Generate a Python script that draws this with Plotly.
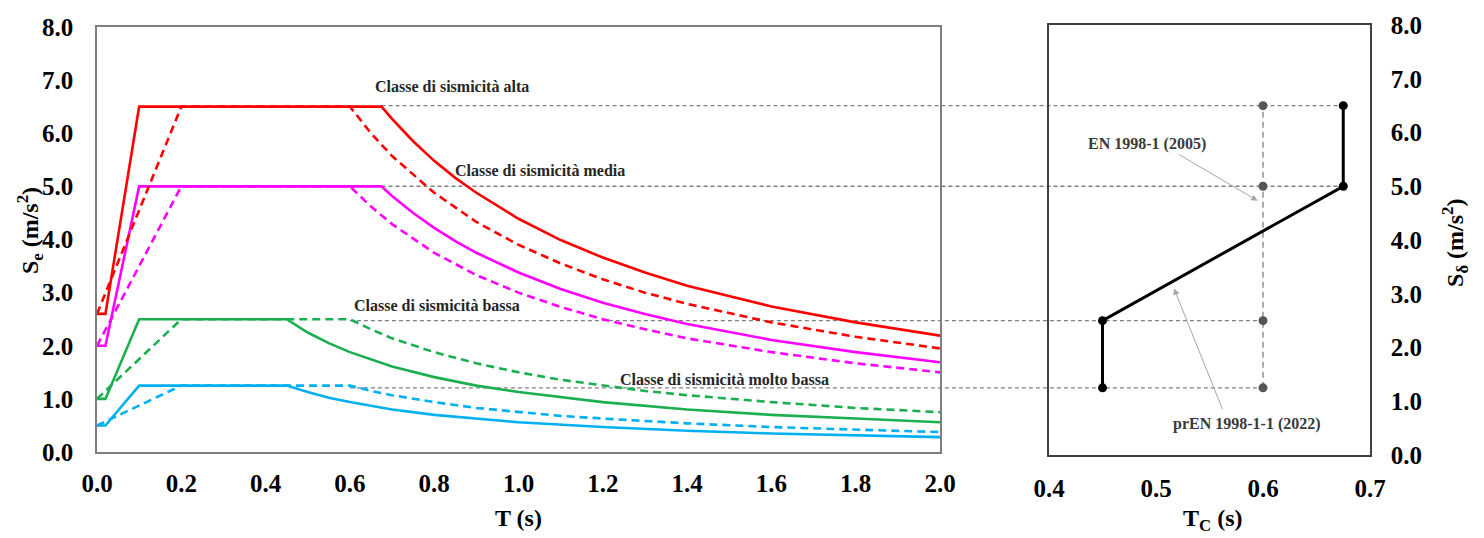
import plotly.graph_objects as go

# ---------------- data ----------------
# prEN 1998-1-1 (2022) spectra (solid)
T_new_hi = [0, 0.02, 0.1, 0.675, 0.7, 0.75, 0.8, 0.85, 0.9, 1.0, 1.1, 1.2, 1.3, 1.4, 1.6, 1.8, 2.0]
Se_alta_new = [2.6, 2.6, 6.5, 6.5, 6.27, 5.85, 5.48, 5.16, 4.88, 4.39, 3.99, 3.66, 3.38, 3.13, 2.74, 2.44, 2.19]
Se_media_new = [2.0, 2.0, 5.0, 5.0, 4.82, 4.50, 4.22, 3.97, 3.75, 3.38, 3.07, 2.81, 2.60, 2.41, 2.11, 1.88, 1.69]
T_new_lo = [0, 0.02, 0.1, 0.45, 0.5, 0.55, 0.6, 0.7, 0.8, 0.9, 1.0, 1.2, 1.4, 1.6, 1.8, 2.0]
Se_bassa_new = [1.0, 1.0, 2.5, 2.5, 2.25, 2.05, 1.88, 1.61, 1.41, 1.25, 1.13, 0.94, 0.80, 0.70, 0.63, 0.56]
Se_mbassa_new = [0.5, 0.5, 1.25, 1.25, 1.13, 1.02, 0.94, 0.80, 0.70, 0.63, 0.56, 0.47, 0.40, 0.35, 0.31, 0.28]

# EN 1998-1 (2005) spectra (dashed)
T_old = [0, 0.2, 0.6, 0.65, 0.7, 0.8, 0.9, 1.0, 1.1, 1.2, 1.3, 1.4, 1.6, 1.8, 2.0]
Se_alta_old = [2.6, 6.5, 6.5, 6.0, 5.57, 4.88, 4.33, 3.90, 3.55, 3.25, 3.00, 2.79, 2.44, 2.17, 1.95]
Se_media_old = [2.0, 5.0, 5.0, 4.62, 4.29, 3.75, 3.33, 3.00, 2.73, 2.50, 2.31, 2.14, 1.88, 1.67, 1.50]
Se_bassa_old = [1.0, 2.5, 2.5, 2.31, 2.14, 1.88, 1.67, 1.50, 1.36, 1.25, 1.15, 1.07, 0.94, 0.83, 0.75]
Se_mbassa_old = [0.5, 1.25, 1.25, 1.15, 1.07, 0.94, 0.83, 0.75, 0.68, 0.63, 0.58, 0.54, 0.47, 0.42, 0.375]

# right panel: plateau value vs TC
S_delta = [1.25, 2.5, 5.0, 6.5]
Tc_new = [0.45, 0.45, 0.675, 0.675]
Tc_old = [0.6, 0.6, 0.6, 0.6]

class_labels = ["Classe di sismicità molto bassa", "Classe di sismicità bassa",
                "Classe di sismicità media", "Classe di sismicità alta"]
label_T = [1.236, 0.605, 0.845, 0.655]
label_S = [1.36, 2.76, 5.30, 6.88]
conn_T_left = [0.6, 0.6, 0.675, 0.675]   # start of connector on the left panel

x_ticks_left = [0.0, 0.2, 0.4, 0.6, 0.8, 1.0, 1.2, 1.4, 1.6, 1.8, 2.0]
x_ticks_right = [0.4, 0.5, 0.6, 0.7]
y_ticks = [0, 1, 2, 3, 4, 5, 6, 7, 8]

# ---------------- style ----------------
RED, MAG, GRN, BLU = "#FF0000", "#FF00FF", "#1BAF4F", "#00B0F0"
GRAY = "#808080"
FONT = "Liberation Serif, Times New Roman, serif"
W, H = 1484, 538
ML, MR, MT, MB = 97, 114, 19, 83
plot_w = W - ML - MR
plot_h = H - MT - MB
dom_left = [0, (940 - ML) / plot_w]
dom_right = [(1049 - ML) / plot_w, 1]
ydom_left = [(455 - 452) / plot_h, (455 - 21) / plot_h]

fig = go.Figure()

def line(T, S, color, dash=None, xa="x", ya="y"):
    fig.add_trace(go.Scatter(x=T, y=S, mode="lines", xaxis=xa, yaxis=ya,
                             line=dict(color=color, width=2.6, dash=dash or "solid"),
                             showlegend=False, hoverinfo="skip"))

line(T_new_lo, Se_mbassa_new, BLU)
line(T_old, Se_mbassa_old, BLU, "8px,5px")
line(T_new_lo, Se_bassa_new, GRN)
line(T_old, Se_bassa_old, GRN, "8px,5px")
line(T_new_hi, Se_media_new, MAG)
line(T_old, Se_media_old, MAG, "8px,5px")
line(T_new_hi, Se_alta_new, RED)
line(T_old, Se_alta_old, RED, "8px,5px")

# connectors across panels
def paper_left(t):
    return dom_left[0] + t / 2.0 * (dom_left[1] - dom_left[0])

def paper_right(t):
    return dom_right[0] + (t - 0.4) / 0.3 * (dom_right[1] - dom_right[0])

for s, t0, tn, to in zip(S_delta, conn_T_left, Tc_new, Tc_old):
    fig.add_shape(type="line", xref="paper", yref="y2",
                  x0=paper_left(t0), x1=paper_right(max(tn, to)), y0=s, y1=s,
                  line=dict(color=GRAY, width=1.3, dash="4px,3px"), layer="below")

# vertical dashed at old TC
fig.add_trace(go.Scatter(x=Tc_old, y=S_delta, mode="lines+markers", xaxis="x2", yaxis="y2",
                         line=dict(color=GRAY, width=1.3, dash="6px,4px"),
                         marker=dict(color="#555555", size=9),
                         showlegend=False, hoverinfo="skip"))
# new TC line
fig.add_trace(go.Scatter(x=Tc_new, y=S_delta, mode="lines+markers", xaxis="x2", yaxis="y2",
                         line=dict(color="black", width=3),
                         marker=dict(color="black", size=9),
                         showlegend=False, hoverinfo="skip"))

for txt, tx, sy in zip(class_labels, label_T, label_S):
    fig.add_annotation(x=tx, y=sy, xref="x", yref="y", text="<b>" + txt + "</b>", showarrow=False,
                       xanchor="left", yanchor="middle",
                       font=dict(family=FONT, size=16, color="#262626"))

# right panel annotations
fig.add_annotation(x=0.4916, y=5.78, xref="x2", yref="y2", text="<b>EN 1998-1 (2005)</b>",
                   showarrow=False, font=dict(family=FONT, size=16, color="#3A3A3A"))
fig.add_annotation(x=0.595, y=4.73, ax=0.5206, ay=5.60, xref="x2", yref="y2",
                   axref="x2", ayref="y2", text="", showarrow=True,
                   arrowhead=2, arrowsize=1.3, arrowwidth=1, arrowcolor="#A6A6A6")
fig.add_annotation(x=0.585, y=0.569, xref="x2", yref="y2", text="<b>prEN 1998-1-1 (2022)</b>",
                   showarrow=False, font=dict(family=FONT, size=16, color="#3A3A3A"))
fig.add_annotation(x=0.5168, y=3.10, ax=0.5626, ay=0.826, xref="x2", yref="y2",
                   axref="x2", ayref="y2", text="", showarrow=True,
                   arrowhead=2, arrowsize=1.3, arrowwidth=1, arrowcolor="#A6A6A6")

tickfont = dict(family=FONT, size=25, color="black", weight="bold")
titlefont = dict(family=FONT, size=24, color="black")

# axis titles as annotations for exact placement
def px_x(px):
    return (px - ML) / plot_w

def px_y(py):
    return (H - MB - py) / plot_h

for tx, ty, ang, txt in [
    (30, 228, -90, "<b>S<sub>e</sub> (m/s<sup>2</sup>)</b>"),
    (1455, 240, -90, "<b>S<sub>δ</sub> (m/s<sup>2</sup>)</b>"),
    (518, 519, 0, "<b>T (s)</b>"),
    (1212, 521, 0, "<b>T<sub>C</sub> (s)</b>"),
]:
    fig.add_annotation(x=px_x(tx), y=px_y(ty), xref="paper", yref="paper", textangle=ang,
                       xanchor="center", yanchor="middle",
                       text=txt, showarrow=False, font=titlefont)

fig.update_layout(
    width=W, height=H, margin=dict(l=ML, r=MR, t=MT, b=MB),
    plot_bgcolor="white", paper_bgcolor="white",
    xaxis=dict(domain=dom_left, range=[0, 2], tickvals=x_ticks_left, tickformat=".1f",
               showgrid=False, zeroline=False, showline=True, mirror=True,
               linecolor="#7F7F7F", linewidth=1.5, ticks="", ticklabelstandoff=8,
               tickfont=tickfont, anchor="y"),
    yaxis=dict(domain=ydom_left, range=[0, 8], tickvals=y_ticks, tickformat=".1f",
               showgrid=False, zeroline=False, showline=True, mirror=True,
               linecolor="#7F7F7F", linewidth=1.5, ticks="", ticklabelstandoff=17,
               tickfont=tickfont, anchor="x"),
    xaxis2=dict(domain=dom_right, range=[0.4, 0.7], tickvals=x_ticks_right, tickformat=".1f",
                showgrid=False, zeroline=False, showline=True, mirror=True,
                linecolor="#404040", linewidth=1.5, ticks="", ticklabelstandoff=10,
                tickfont=tickfont, anchor="y2"),
    yaxis2=dict(domain=[0, 1], range=[0, 8], tickvals=y_ticks, tickformat=".1f",
                showgrid=False, zeroline=False, showline=True, mirror=True,
                linecolor="#404040", linewidth=1.5, ticks="", ticklabelstandoff=14,
                tickfont=tickfont, anchor="x2", side="right"),
)

fig.write_html("out.html")
